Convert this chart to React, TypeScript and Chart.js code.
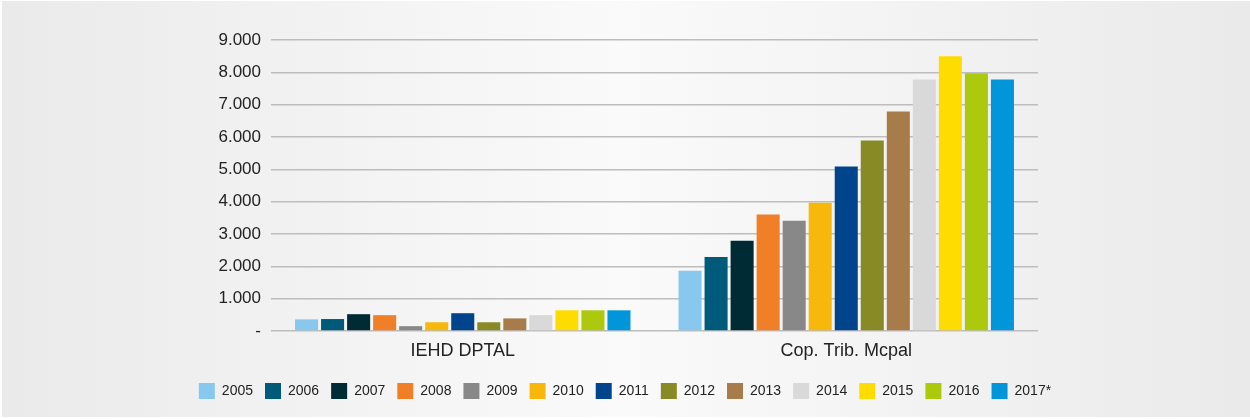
import React, { useEffect, useRef } from "react";
import { Chart, registerables } from "chart.js";

Chart.register(...registerables);

const categories = ["IEHD DPTAL", "Cop. Trib. Mcpal"];
const years = ["2005", "2006", "2007", "2008", "2009", "2010", "2011", "2012", "2013", "2014", "2015", "2016", "2017*"];
const iehdValues = [360, 370, 520, 490, 150, 270, 550, 270, 390, 490, 640, 640, 640];
const copValues = [1860, 2290, 2790, 3600, 3410, 3970, 5085, 5890, 6790, 7780, 8500, 7970, 7780];
const colors = ["#88c8ee", "#005a7a", "#002b35", "#f07f28", "#888888", "#f7b80b", "#00448b", "#878a25", "#a87c4a", "#d9d9d9", "#ffdc00", "#adc90e", "#0096d9"];
const yTicks = [0, 1000, 2000, 3000, 4000, 5000, 6000, 7000, 8000, 9000];

const FONT = "'Liberation Sans', Arial, Helvetica, sans-serif";

function fmt(v: number): string {
  if (v === 0) return "-";
  return String(v).replace(/\B(?=(\d{3})+(?!\d))/g, ".");
}

export default function App() {
  const ref = useRef<HTMLCanvasElement | null>(null);
  useEffect(() => {
    if (!ref.current) return;
    const chart = new Chart(ref.current, {
      type: "bar",
      data: {
        labels: categories,
        datasets: years.map((y, i) => ({
          label: y,
          data: [iehdValues[i], copValues[i]],
          backgroundColor: colors[i],
          borderWidth: 0,
          barPercentage: 0.885,
          categoryPercentage: 0.8825,
          yAxisID: "y",
        })),
      },
      options: {
        responsive: false,
        animation: false,
        layout: { padding: { left: 0, right: 0, top: 40, bottom: 10 } },
        plugins: {
          tooltip: { enabled: false },
          legend: {
            position: "bottom",
            labels: {
              boxWidth: 16,
              boxHeight: 16,
              padding: 12,
              color: "#222",
              font: { family: FONT, size: 14 },
            },
          },
        },
        scales: {
          x: {
            grid: { display: false, drawTicks: false },
            border: { display: false },
            ticks: { color: "#222", font: { family: FONT, size: 18 }, padding: 9 },
            afterFit: (s: any) => { s.height = 40; },
          },
          y: {
            min: 0,
            max: 9000,
            afterBuildTicks: (s: any) => { s.ticks = yTicks.map((v) => ({ value: v })); },
            grid: { color: "#bdbdbd", lineWidth: 1.5, drawTicks: false },
            border: { display: false },
            ticks: {
              color: "#222",
              font: { family: FONT, size: 17 },
              padding: 10,
              callback: (v: any) => fmt(Number(v)),
            },
            afterFit: (s: any) => { s.width = 271; },
          },
          y2: {
            position: "right",
            display: true,
            min: 0,
            max: 9000,
            grid: { display: false, drawTicks: false },
            border: { display: false },
            ticks: { display: false },
            afterFit: (s: any) => { s.width = 212; },
          },
        },
      },
    } as any);
    return () => chart.destroy();
  }, []);
  return (
    <div style={{ position: "fixed", left: 0, top: 0, width: 1250, height: 419, background: "#ffffff" }}>
      <div style={{ position: "absolute", left: 2, top: 1, width: 1248, height: 416, background: "linear-gradient(to right, #eaeaea 0%, #fafafa 50%, #eaeaea 100%)" }} />
      <canvas ref={ref} width={1250} height={419} style={{ position: "absolute", left: 0, top: 0, width: 1250, height: 419 }} />
    </div>
  );
}
